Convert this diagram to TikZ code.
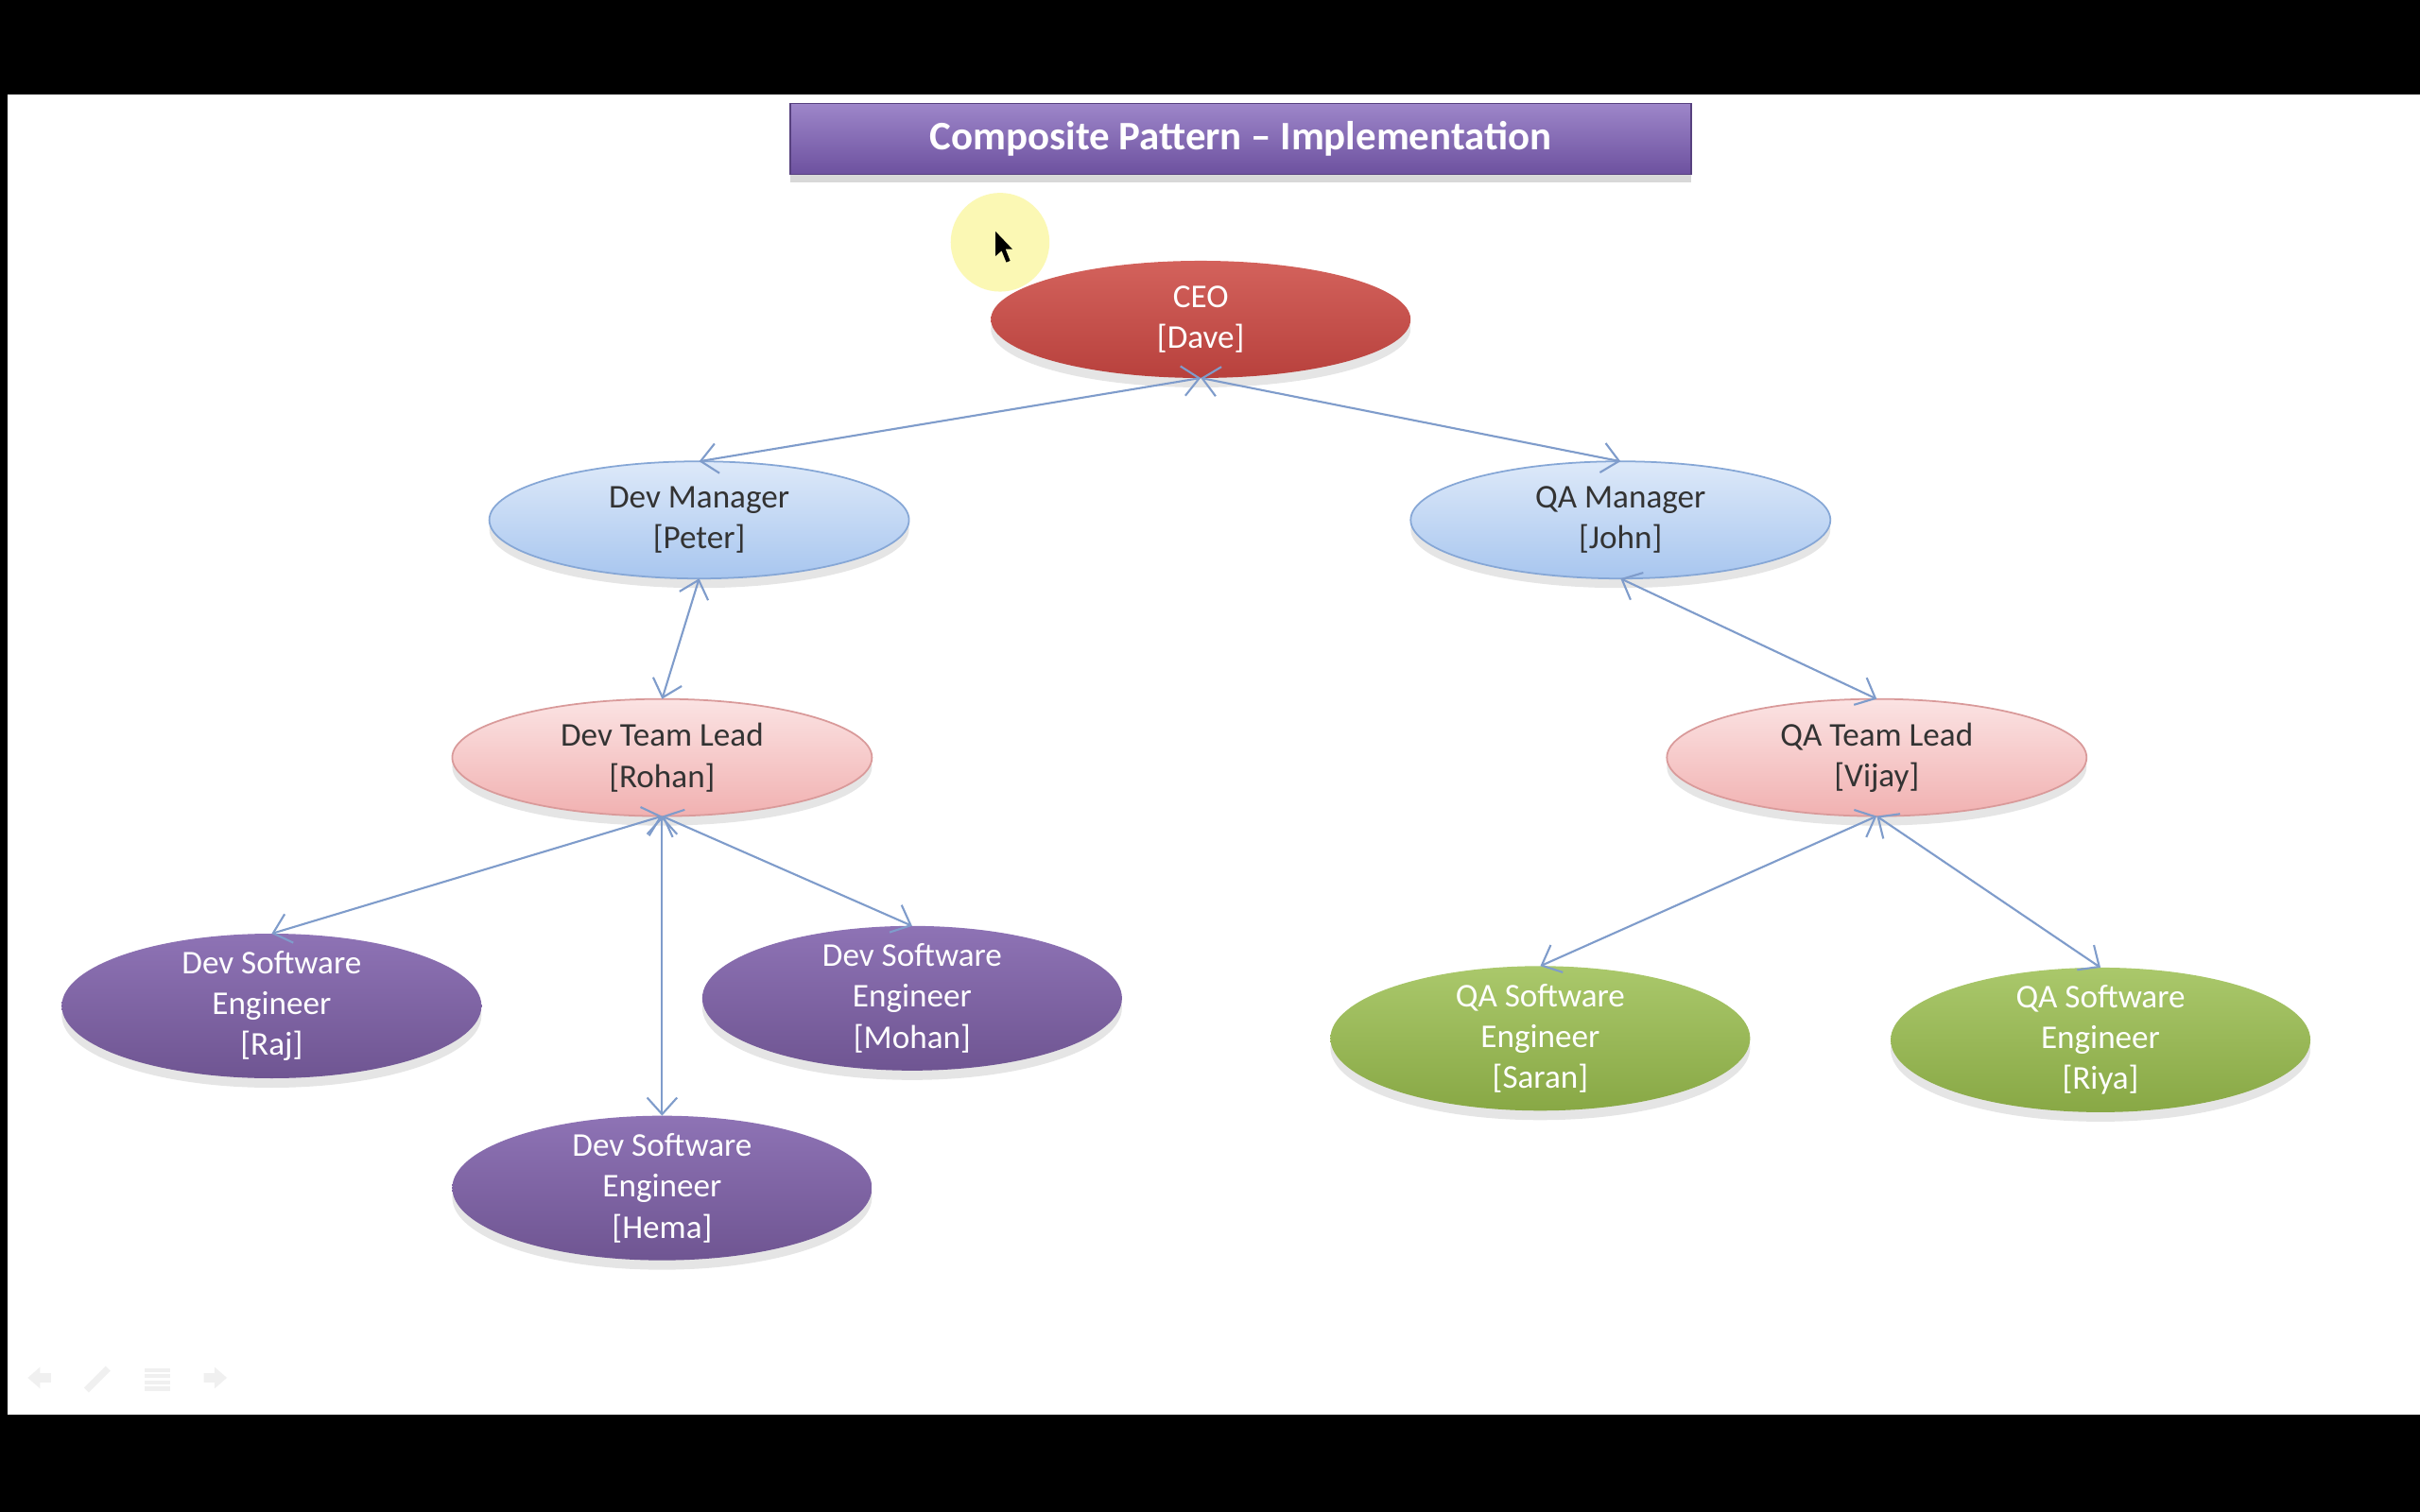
\documentclass[tikz,border=0pt]{standalone}
\usepackage{fontspec}
\setmainfont{Carlito}
\usepackage{xcolor}
\usepackage{tikz}
\usetikzlibrary{shapes.geometric,arrows.meta,shadows}

\definecolor{linkblue}{HTML}{7F9CCB}
\definecolor{titletop}{HTML}{9D86C9}
\definecolor{titlebot}{HTML}{6D519F}
\definecolor{ceotop}{HTML}{D3625C}
\definecolor{ceobot}{HTML}{B8413D}
\definecolor{mgrtop}{HTML}{DDE9F9}
\definecolor{mgrbot}{HTML}{A8C6EF}
\definecolor{mgredge}{HTML}{86A7D6}
\definecolor{leadtop}{HTML}{FBE3E3}
\definecolor{leadbot}{HTML}{F1B1B1}
\definecolor{leadedge}{HTML}{D99A9A}
\definecolor{devtop}{HTML}{8E73B5}
\definecolor{devbot}{HTML}{6F5592}
\definecolor{qatop}{HTML}{AAC86B}
\definecolor{qabot}{HTML}{88A845}
\definecolor{hilite}{HTML}{FBF8B4}

\begin{document}
\begin{tikzpicture}[x=0.016327cm, y=-0.016327cm,
    >={Straight Barb[length=5pt,width=9pt]},
    box/.style={ellipse, inner sep=0pt, outer sep=0pt, minimum width=4.44cm, minimum height=1.24cm,
        align=center, font=\fontsize{10}{12.3}\selectfont,
        drop shadow={opacity=0.2, shadow xshift=0mm, shadow yshift=-1mm}},
    ceo/.style={box, top color=ceotop, bottom color=ceobot, text=white},
    mgr/.style={box, draw=mgredge, line width=0.5pt, top color=mgrtop, bottom color=mgrbot, text=black!80},
    lead/.style={box, draw=leadedge, line width=0.5pt, top color=leadtop, bottom color=leadbot, text=black!80},
    eng/.style={box, minimum height=1.53cm, inner ysep=-3pt, text=white},
    deveng/.style={eng, top color=devtop, bottom color=devbot},
    qaeng/.style={eng, top color=qatop, bottom color=qabot},
    link/.style={<->, draw=linkblue, line width=0.6pt}
]
    % screen frame
    \fill[black] (0,0) rectangle (1568,980);
    \fill[white] (5,61) rectangle (1568,917);

    % title bar
    \node[draw=titlebot!80!black, line width=0.5pt, top color=titletop, bottom color=titlebot,
        minimum width=9.53cm, minimum height=0.75cm, text=white, font=\fontsize{12.2}{14}\bfseries,
        drop shadow={opacity=0.3, shadow xshift=0mm, shadow yshift=-0.9mm}]
        (title) at (804,90) {Composite Pattern – Implementation};

    % pointer
    \fill[hilite] (648,157) circle (32);
    \fill[black] (645,150) -- (645,166) -- (649,162.5) -- (652,170) -- (654.5,169) -- (651.5,161.5) -- (656,161.5) -- cycle;

    % nodes
    \node[ceo] (ceo) at (778,207) {CEO\\{[Dave]}};
    \node[mgr] (devmgr) at (453,337) {Dev Manager\\{[Peter]}};
    \node[mgr] (qamgr) at (1050,337) {QA Manager\\{[John]}};
    \node[lead] (devlead) at (429,491) {Dev Team Lead\\{[Rohan]}};
    \node[lead] (qalead) at (1216,491) {QA Team Lead\\{[Vijay]}};
    \node[deveng] (raj) at (176,652) {Dev Software\\Engineer\\{[Raj]}};
    \node[deveng] (mohan) at (591,647) {Dev Software\\Engineer\\{[Mohan]}};
    \node[deveng] (hema) at (429,770) {Dev Software\\Engineer\\{[Hema]}};
    \node[qaeng] (saran) at (998,673) {QA Software\\Engineer\\{[Saran]}};
    \node[qaeng] (riya) at (1361,674) {QA Software\\Engineer\\{[Riya]}};

    % links
    \draw[link] (ceo.south) -- (devmgr.north);
    \draw[link] (ceo.south) -- (qamgr.north);
    \draw[link] (devmgr.south) -- (devlead.north);
    \draw[link] (qamgr.south) -- (qalead.north);
    \draw[link] (devlead.south) -- (raj.north);
    \draw[link] (devlead.south) -- (mohan.north);
    \draw[link] (devlead.south) -- (hema.north);
    \draw[link] (qalead.south) -- (saran.north);
    \draw[link] (qalead.south) -- (riya.north);

    % faint slide controls
    \fill[black!6] (18,893) -- (26,886) -- (26,890) -- (33,890) -- (33,896) -- (26,896) -- (26,900) -- cycle;
    \draw[black!6, line width=2pt] (56,901) -- (70,887);
    \foreach \y in {888,892,896,900} {
        \draw[black!6, line width=1.2pt] (94,\y) -- (110,\y);
    }
    \fill[black!6] (147,893) -- (139,886) -- (139,890) -- (132,890) -- (132,896) -- (139,896) -- (139,900) -- cycle;
\end{tikzpicture}
\end{document}
